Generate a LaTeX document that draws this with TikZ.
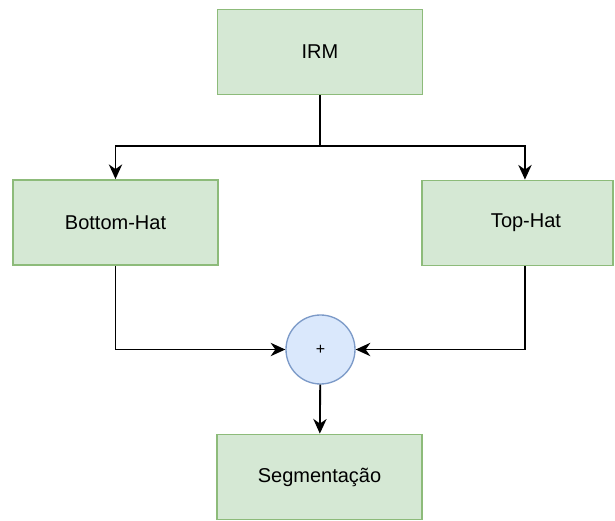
\documentclass[tikz,border=0pt]{standalone}
\usepackage{fontspec}
\setmainfont{Liberation Sans}
\usetikzlibrary{arrows.meta, positioning}
\definecolor{boxfill}{HTML}{D5E8D4}
\definecolor{boxline}{HTML}{8DBB7A}
\definecolor{sumfill}{HTML}{DAE8FC}
\definecolor{sumline}{HTML}{7C9AC8}

\begin{document}
\begin{tikzpicture}[x=0.75pt, y=-0.75pt,
    font=\fontsize{15}{18}\selectfont,
    block/.style={draw=boxline, fill=boxfill, line width=1.1pt, minimum width=153.75pt, minimum height=64pt, inner sep=0pt},
    link/.style={line width=1.4pt, -{Stealth[length=11pt, width=10pt, inset=3.5pt]}}]
    \useasboundingbox (0,0) rectangle (615,521);

    \node[block] (irm) at (320,52) {IRM};
    \node[block] (bottomhat) at (115.5,222.5) {Bottom-Hat};
    \node[block, minimum width=143.25pt] (tophat) at (517.5,223) {\hspace*{12.75pt}Top-Hat};
    \node[circle, draw=sumline, fill=sumfill, line width=1pt, minimum size=51.75pt, inner sep=0pt, font=\fontsize{12}{14}\selectfont] (sum) at (320.5,349.5) {+};
    \node[block] (seg) at (319.5,477) {Segmentação};

    % split below IRM
    \coordinate (split) at (320,146);
    \draw[line width=1.4pt] (irm.south) -- (split);
    \draw[link] (split) -| (bottomhat.north);
    \draw[link] (split) -| ([xshift=5.6pt]tophat.north);

    % both branches meet at the sum
    \draw[link] (bottomhat.south) |- (sum.west);
    \draw[link] ([xshift=5.6pt]tophat.south) |- (sum.east);
    \draw[link] (sum) -- (seg);
\end{tikzpicture}
\end{document}
